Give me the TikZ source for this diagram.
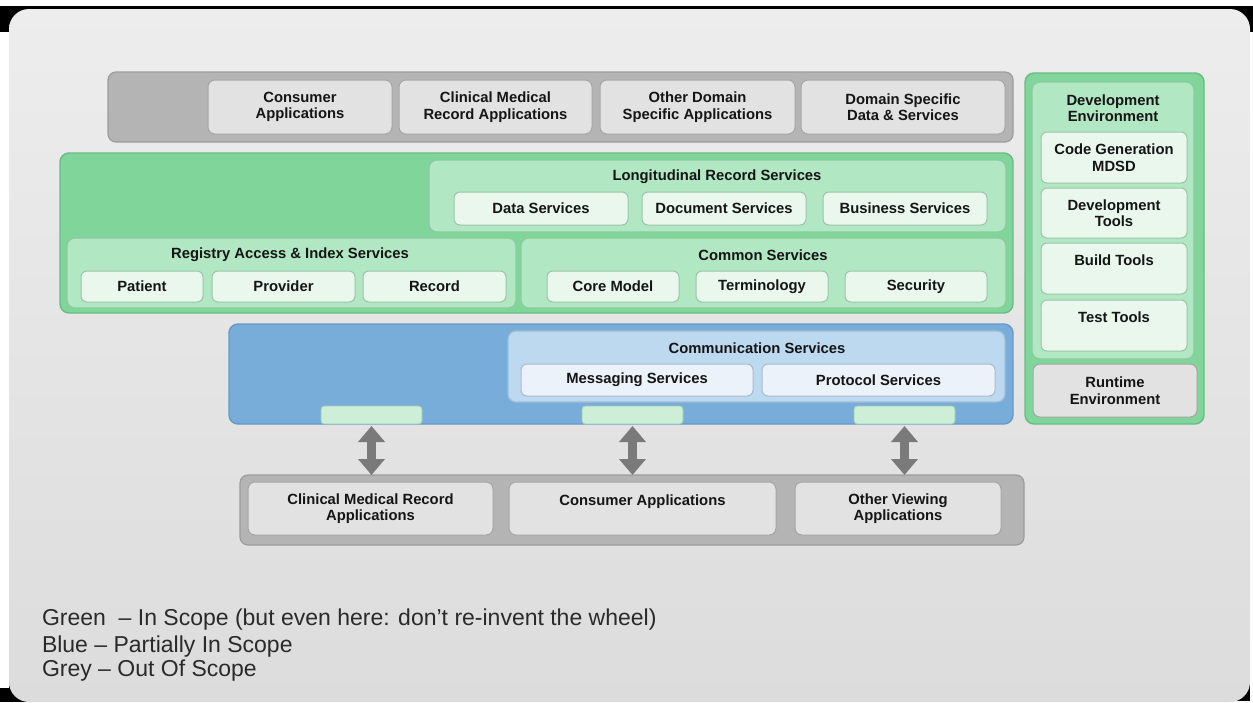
\documentclass[tikz,border=0pt]{standalone}
\usepackage{fontspec}
\setmainfont{Liberation Sans}
\usetikzlibrary{arrows.meta}
\definecolor{txt}{HTML}{151515}
\definecolor{slidetop}{HTML}{EDEDED}
\definecolor{slidebot}{HTML}{DCDCDC}
\definecolor{gbarfill}{HTML}{B4B4B4}
\definecolor{gbarline}{HTML}{9C9C9C}
\definecolor{gboxfill}{HTML}{E2E2E2}
\definecolor{gboxline}{HTML}{A6A6A6}
\definecolor{gmainfill}{HTML}{80D59B}
\definecolor{gmainline}{HTML}{6ABC84}
\definecolor{glightfill}{HTML}{B2E7C3}
\definecolor{glightline}{HTML}{8CCB9F}
\definecolor{gpalefill}{HTML}{E9F7ED}
\definecolor{gpaleline}{HTML}{9CC4A7}
\definecolor{bmainfill}{HTML}{79ADD9}
\definecolor{bmainline}{HTML}{6898C4}
\definecolor{blightfill}{HTML}{BDD9EF}
\definecolor{blightline}{HTML}{9DBDD8}
\definecolor{bpalefill}{HTML}{EBF2FA}
\definecolor{bpaleline}{HTML}{A7BBCF}
\definecolor{tabfill}{HTML}{CDEFD8}
\definecolor{tabline}{HTML}{9FC9AC}
\definecolor{arrowgrey}{HTML}{7A7A7A}
\definecolor{legendtxt}{HTML}{2A2A2A}
\tikzset{
  every node/.style={inner sep=0pt, outer sep=0pt, align=center, text=txt,
    font=\bfseries\fontsize{14.8}{16.5}\selectfont},
  greybar/.style={draw=gbarline, fill=gbarfill, rounded corners=8, line width=1.2},
  greybox/.style={draw=gboxline, fill=gboxfill, rounded corners=7, line width=1},
  greenmain/.style={draw=gmainline, fill=gmainfill, rounded corners=9, line width=1.4},
  greenlight/.style={draw=glightline, fill=glightfill, rounded corners=8, line width=1.2},
  greenpale/.style={draw=gpaleline, fill=gpalefill, rounded corners=6, line width=1},
  bluemain/.style={draw=bmainline, fill=bmainfill, rounded corners=9, line width=1.4},
  bluelight/.style={draw=blightline, fill=blightfill, rounded corners=8, line width=1.2},
  bluepale/.style={draw=bpaleline, fill=bpalefill, rounded corners=6, line width=1},
  tabbox/.style={draw=tabline, fill=tabfill, rounded corners=3, line width=0.8},
  bigarrow/.style={draw=arrowgrey, line width=9,
    {Triangle[width=26pt,length=16pt]}-{Triangle[width=26pt,length=16pt]}},
  legend/.style={font=\fontsize{23}{27}\selectfont, text=legendtxt, anchor=base west, align=left}
}
\newcommand\mybox[7]{\node[#1, minimum width={(#5)-(#3)}, minimum height={(#6)-(#4)}] (#2) at ({((#3)+(#5))/2},{((#4)+(#6))/2}) {#7};}
\begin{document}
\begin{tikzpicture}[x=1pt,y=-1pt]
\useasboundingbox (0,0) rectangle (1253,702);
% slide background
\fill[white] (0,0) rectangle (1253,702);
\fill[black] (0,6) rectangle (1253,702);
\fill[white] (0,32) rectangle (9,688);
\fill[white] (1250,32) rectangle (1253,702);
\fill[white] (40,701) rectangle (1253,702);
\shade[top color=slidetop, bottom color=slidebot, rounded corners=20] (9,9) rectangle (1250,702);

% top grey bar
\mybox{greybar}{topbar}{108}{72}{1013}{142}{}
\mybox{greybox}{t1}{208}{80}{392}{134}{Consumer\\Applications}
\mybox{greybox}{t2}{399}{80}{592}{134}{Clinical Medical\\Record Applications}
\mybox{greybox}{t3}{600}{80}{795}{134}{Other Domain\\Specific Applications}
\mybox{greybox}{t4}{801}{80}{1005}{134}{Domain Specific\\Data \& Services}

% green main panel
\mybox{greenmain}{gmain}{60}{153}{1013}{313}{}
\mybox{greenlight}{lrs}{429}{160}{1006}{232}{}
\node (lrst) at (717,177) {Longitudinal Record Services};
\mybox{greenpale}{ds}{454}{192}{628}{225}{Data Services}
\mybox{greenpale}{docs}{642}{192}{806}{225}{Document Services}
\mybox{greenpale}{bs}{823}{192}{987}{225}{Business Services}

\mybox{greenlight}{rai}{67}{238}{516}{308}{}
\node (rait) at (290,255) {Registry Access \& Index Services};
\mybox{greenpale}{pat}{81}{271}{203}{302}{Patient}
\mybox{greenpale}{prov}{212}{271}{355}{302}{Provider}
\mybox{greenpale}{rec}{363}{271}{506}{302}{Record}

\mybox{greenlight}{cs}{521}{238}{1006}{308}{}
\node (cst) at (763,255) {Common Services};
\mybox{greenpale}{cm}{547}{271}{679}{302}{Core Model}
\mybox{greenpale}{term}{696}{271}{828}{302}{Terminology}
\mybox{greenpale}{sec}{845}{271}{987}{302}{Security}

% blue panel
\mybox{bluemain}{bmain}{229}{324}{1013}{424}{}
\mybox{bluelight}{comm}{508}{331}{1005}{402}{}
\node (commt) at (757,348) {Communication Services};
\mybox{bluepale}{msg}{521}{364}{753}{396}{Messaging Services}
\mybox{bluepale}{prot}{762}{364}{995}{396}{Protocol Services}
\mybox{tabbox}{tab1}{321}{406}{422}{424}{}
\mybox{tabbox}{tab2}{582}{406}{683}{424}{}
\mybox{tabbox}{tab3}{854}{406}{955}{424}{}

% bottom grey bar
\mybox{greybar}{botbar}{240}{475}{1024}{545}{}
\mybox{greybox}{b1}{248}{482}{493}{535}{Clinical Medical Record\\Applications}
\mybox{greybox}{b2}{509}{482}{776}{535}{Consumer Applications\\\mbox{}}
\mybox{greybox}{b3}{795}{482}{1001}{535}{Other Viewing\\Applications}

% arrows
\draw[bigarrow] ([yshift=-2pt]tab1.south) -- (tab1.south |- botbar.north);
\draw[bigarrow] ([yshift=-2pt]tab2.south) -- (tab2.south |- botbar.north);
\draw[bigarrow] ([yshift=-2pt]tab3.south) -- (tab3.south |- botbar.north);

% right column
\mybox{greenmain}{devouter}{1025}{73}{1204}{424}{}
\mybox{greenlight}{devenv}{1032}{82}{1194}{359}{}
\node (devt) at (1113,108) {Development\\Environment};
\mybox{greenpale}{cg}{1041}{132}{1187}{183}{Code Generation\\MDSD}
\mybox{greenpale}{dt}{1041}{188}{1187}{238}{Development\\Tools}
\mybox{greenpale}{bt}{1041}{243}{1187}{294}{Build Tools\\\mbox{}}
\mybox{greenpale}{tt}{1041}{300}{1187}{351}{Test Tools\\\mbox{}}
\mybox{greybox}{rt}{1033}{364}{1197}{417}{Runtime\\Environment}

% legend
\node[legend] (lg1) at (42,625) {Green~ – In Scope (but even here: don't re-invent the wheel)};
\node[legend] (lg2) at (42,652) {Blue – Partially In Scope};
\node[legend] (lg3) at (42,676) {Grey – Out Of Scope};
\end{tikzpicture}
\end{document}
